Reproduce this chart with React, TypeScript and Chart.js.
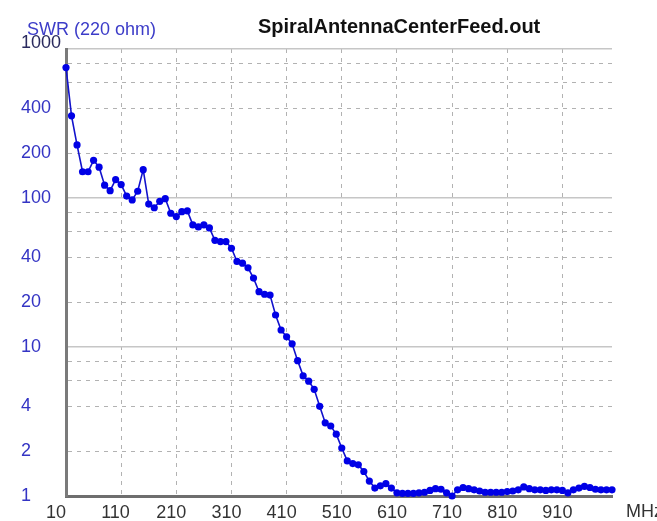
import React, { useEffect, useRef } from "react";
import { Chart, registerables } from "chart.js";

Chart.register(...registerables);

const freqMHz = [
  10, 20, 30, 40, 50, 60, 70, 80, 90, 100,
  110, 120, 130, 140, 150, 160, 170, 180, 190, 200,
  210, 220, 230, 240, 250, 260, 270, 280, 290, 300,
  310, 320, 330, 340, 350, 360, 370, 380, 390, 400,
  410, 420, 430, 440, 450, 460, 470, 480, 490, 500,
  510, 520, 530, 540, 550, 560, 570, 580, 590, 600,
  610, 620, 630, 640, 650, 660, 670, 680, 690, 700,
  710, 720, 730, 740, 750, 760, 770, 780, 790, 800,
  810, 820, 830, 840, 850, 860, 870, 880, 890, 900,
  910, 920, 930, 940, 950, 960, 970, 980, 990, 1000,
];

const swrValues = [
  750, 356, 227, 150, 150, 179, 161, 122, 112, 133,
  123, 103, 97, 111, 155, 91, 86, 95, 99, 79,
  75, 81, 82, 66, 64, 66, 63, 52, 51, 51,
  46, 37.5, 36.5, 34, 29, 23.5, 22.6, 22.3, 16.4, 13,
  11.7, 10.5, 8.1, 6.4, 5.9, 5.2, 4.0, 3.1, 2.95, 2.6,
  2.1, 1.72, 1.65, 1.62, 1.46, 1.26, 1.13, 1.17, 1.21, 1.13,
  1.05, 1.04, 1.04, 1.04, 1.05, 1.06, 1.09, 1.12, 1.11, 1.05,
  1.0, 1.1, 1.14, 1.12, 1.1, 1.08, 1.06, 1.06, 1.06, 1.06,
  1.07, 1.08, 1.1, 1.15, 1.12, 1.1, 1.1, 1.09, 1.1, 1.1,
  1.09, 1.05, 1.1, 1.13, 1.16, 1.14, 1.11, 1.1, 1.1, 1.1,
];

const xTickValues = [10, 110, 210, 310, 410, 510, 610, 710, 810, 910];
const xTickLabels = ["10", "110", "210", "310", "410", "510", "610", "710", "810", "910"];
const yTickValues = [1, 2, 4, 6, 8, 10, 20, 40, 60, 80, 100, 200, 400, 600, 800, 1000];
const yLabelledValues = [1, 2, 4, 10, 20, 40, 100, 200, 400, 1000];
const ySolidValues = [10, 100, 1000];

const titleText = "SpiralAntennaCenterFeed.out";
const yTitleText = "SWR (220 ohm)";
const xUnitText = "MHz";

const FONT = "'Liberation Sans', Arial, sans-serif";

export default function App() {
  const canvasRef = useRef<HTMLCanvasElement | null>(null);

  useEffect(() => {
    document.body.style.margin = "0";
    const canvas = canvasRef.current;
    if (!canvas) return;

    const textPlugin = {
      id: "textPlugin",
      afterDraw(chart: any) {
        const ctx = chart.ctx;
        ctx.save();
        ctx.textBaseline = "alphabetic";
        ctx.textAlign = "left";
        ctx.fillStyle = "#111111";
        ctx.font = `bold 20px ${FONT}`;
        ctx.fillText(titleText, 258, 33);
        ctx.fillStyle = "#3c3cc8";
        ctx.font = `18px ${FONT}`;
        ctx.fillText(yTitleText, 27, 35);
        ctx.fillStyle = "#333333";
        ctx.textBaseline = "middle";
        ctx.fillText(xUnitText, 626, 512);
        ctx.restore();
      },
    };

    const chart = new Chart(canvas, {
      type: "line",
      data: {
        datasets: [
          {
            data: freqMHz.map((f, i) => ({ x: f, y: swrValues[i] })),
            borderColor: "#1212cc",
            borderWidth: 1.6,
            pointRadius: 3.6,
            pointBorderWidth: 0,
            pointBackgroundColor: "#0000e6",
            pointHoverRadius: 3.6,
            tension: 0,
            clip: false as any,
          },
        ],
      },
      options: {
        animation: false,
        responsive: false,
        events: [],
        layout: { padding: { left: 21, top: 49, right: 45, bottom: 0 } },
        plugins: {
          legend: { display: false },
          title: { display: false },
          tooltip: { enabled: false },
        },
        scales: {
          x: {
            type: "linear",
            position: "bottom",
            min: 10,
            max: 1000,
            afterBuildTicks: (scale: any) => {
              scale.ticks = xTickValues.map((v) => ({ value: v }));
            },
            afterFit: (scale: any) => {
              scale.height = 25;
            },
            ticks: {
              autoSkip: false,
              maxRotation: 0,
              minRotation: 0,
              align: "start",
              labelOffset: -20,
              padding: 6,
              color: "#333333",
              font: { family: FONT, size: 18 },
              callback: (v: any) => {
                const i = xTickValues.indexOf(Number(v));
                return i >= 0 ? xTickLabels[i] : "";
              },
            },
            grid: {
              drawTicks: false,
              lineWidth: 1,
              color: (c: any) =>
                c.tick && c.tick.value === 10 ? "rgba(0,0,0,0)" : "#b2b2b2",
            },
            border: { display: true, color: "#6e6e6e", width: 3, dash: [4, 5] },
          },
          y: {
            type: "logarithmic",
            position: "left",
            min: 1,
            max: 1000,
            afterBuildTicks: (scale: any) => {
              scale.ticks = yTickValues.map((v) => ({ value: v }));
            },
            afterFit: (scale: any) => {
              scale.width = 45;
            },
            ticks: {
              autoSkip: false,
              crossAlign: "far",
              padding: 0,
              color: (c: any) =>
                c.tick && c.tick.value === 1000 ? "#2a2a5e" : "#3434c4",
              font: (c: any) =>
                c.tick && c.tick.value === 1000
                  ? { family: FONT, size: 18, lineHeight: "11px" }
                  : { family: FONT, size: 18 },
              callback: (v: any) => {
                const n = Number(v);
                if (!yLabelledValues.includes(n)) return "";
                return n === 1000 ? [String(n), ""] : String(n);
              },
            },
            grid: {
              drawTicks: false,
              lineWidth: 1,
              color: (c: any) =>
                c.tick && (c.tick.value === 1 || ySolidValues.includes(c.tick.value))
                  ? "rgba(0,0,0,0)"
                  : "#b2b2b2",
            },
            border: { display: true, color: "#7a7a7a", width: 3, dash: [4, 5] },
          },
          y2: {
            type: "logarithmic",
            position: "left",
            min: 1,
            max: 1000,
            afterBuildTicks: (scale: any) => {
              scale.ticks = ySolidValues.map((v) => ({ value: v }));
            },
            afterFit: (scale: any) => {
              scale.width = 0;
            },
            ticks: { display: false },
            grid: { drawTicks: false, lineWidth: 1.5, color: "#c6c6c6" },
            border: { display: false },
          },
        },
      } as any,
      plugins: [textPlugin],
    });

    return () => chart.destroy();
  }, []);

  return (
    <div style={{ width: 657, height: 521, background: "#ffffff" }}>
      <canvas ref={canvasRef} width={657} height={521} style={{ display: "block" }} />
    </div>
  );
}
